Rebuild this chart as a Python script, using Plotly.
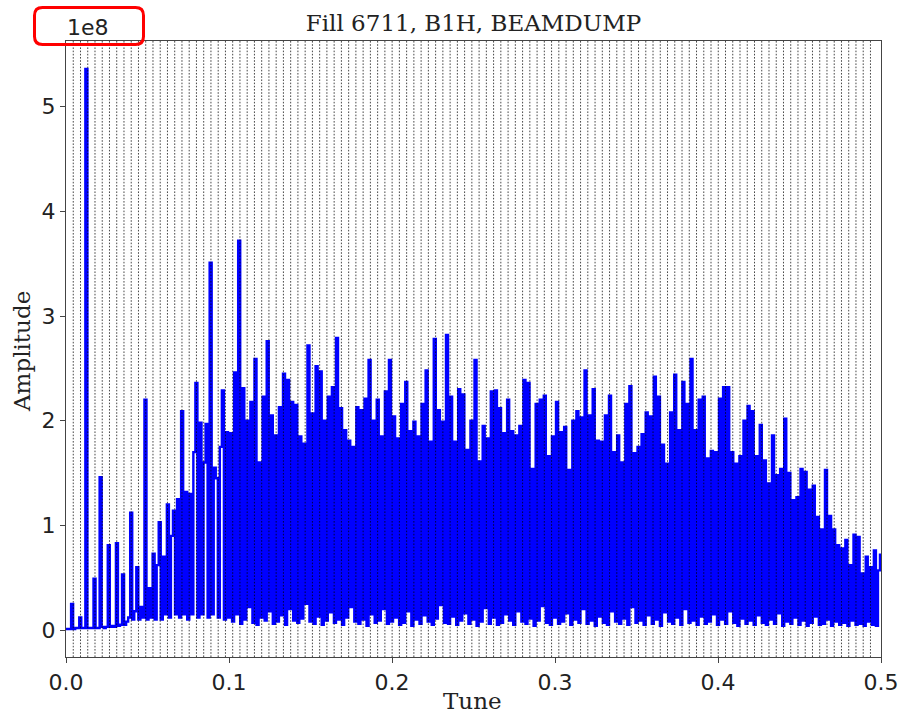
import numpy as np
import plotly.graph_objects as go

# Spectrum of the horizontal beam-1 BPM signal, amplitudes in units of 1e8
TITLE = "Fill 6711, B1H, BEAMDUMP"
AMP_EXPONENT_LABEL = "1e8"

# low-tune part (bins 0-79): isolated 50 Hz lines on a rising floor
amp_low = [
    0.01, 0.01, 0.01, 0.25, 0.01, 0.02, 0.02, 0.12, 0.02, 0.02,
    5.36, 0.02, 0.02, 0.02, 0.49, 0.02, 0.02, 1.46, 0.03, 0.02,
    0.03, 0.81, 0.03, 0.04, 0.03, 0.83, 0.04, 0.05, 0.53, 0.05,
    0.08, 0.12, 1.12, 0.10, 0.18, 0.60, 0.10, 0.22, 0.12, 2.20,
    0.10, 0.40, 0.12, 0.73, 0.10, 0.62, 1.03, 0.10, 0.70, 0.15,
    1.20, 0.12, 0.90, 1.14, 0.15, 1.25, 0.12, 2.09, 0.15, 1.32,
    0.10, 1.30, 0.15, 1.70, 2.36, 0.12, 1.98, 0.15, 1.60, 1.97,
    0.12, 3.51, 0.15, 1.55, 1.45, 0.12, 1.75, 2.29, 0.10, 1.89,
]

# broadband part (bins 80-399): local minima on even bins ...
trough_amp = [
    0.12, 0.08, 0.15, 0.06, 0.10, 0.22, 0.07, 0.05, 0.12, 0.09,
    0.18, 0.06, 0.08, 0.14, 0.05, 0.20, 0.09, 0.07, 0.11, 0.25,
    0.08, 0.06, 0.13, 0.05, 0.09, 0.17, 0.07, 0.10, 0.05, 0.12,
    0.22, 0.08, 0.06, 0.10, 0.04, 0.15, 0.07, 0.09, 0.20, 0.06,
    0.08, 0.12, 0.05, 0.07, 0.18, 0.04, 0.10, 0.06, 0.14, 0.08,
    0.05, 0.11, 0.24, 0.07, 0.06, 0.13, 0.05, 0.09, 0.16, 0.06,
    0.10, 0.04, 0.08, 0.21, 0.06, 0.12, 0.05, 0.07, 0.15, 0.09,
    0.05, 0.18, 0.08, 0.06, 0.11, 0.04, 0.09, 0.23, 0.07, 0.05,
    0.12, 0.06, 0.08, 0.16, 0.05, 0.10, 0.07, 0.20, 0.06, 0.09,
    0.04, 0.13, 0.07, 0.05, 0.18, 0.08, 0.06, 0.11, 0.05, 0.22,
    0.07, 0.09, 0.05, 0.14, 0.06, 0.10, 0.04, 0.17, 0.08, 0.06,
    0.12, 0.05, 0.20, 0.07, 0.09, 0.05, 0.13, 0.06, 0.08, 0.15,
    0.05, 0.10, 0.06, 0.18, 0.07, 0.04, 0.11, 0.06, 0.09, 0.05,
    0.14, 0.07, 0.05, 0.10, 0.06, 0.16, 0.04, 0.08, 0.06, 0.12,
    0.05, 0.09, 0.04, 0.07, 0.13, 0.05, 0.06, 0.10, 0.04, 0.08,
    0.05, 0.07, 0.04, 0.09, 0.05, 0.06, 0.04, 0.08, 0.05, 0.04,
]

# ... and local maxima on odd bins
peak_amp = [
    1.88, 2.46, 3.72, 2.31, 2.00, 2.18, 2.59, 1.60, 2.23, 2.76,
    2.05, 1.86, 2.13, 2.45, 2.39, 2.18, 2.15, 1.85, 1.78, 2.72,
    2.07, 2.52, 2.47, 2.00, 2.23, 2.32, 2.79, 2.12, 1.91, 1.81,
    1.75, 2.13, 2.10, 2.21, 2.58, 2.00, 2.20, 1.85, 2.28, 2.58,
    2.04, 1.83, 2.16, 2.37, 1.90, 1.99, 1.85, 2.16, 2.48, 1.80,
    2.78, 2.10, 1.99, 2.82, 2.23, 1.80, 2.30, 2.25, 1.72, 2.00,
    2.58, 1.61, 1.95, 1.83, 2.28, 2.29, 2.12, 1.88, 2.20, 1.90,
    1.86, 1.95, 2.39, 2.36, 1.54, 2.16, 2.20, 2.24, 1.66, 1.85,
    2.18, 1.89, 1.94, 1.53, 2.00, 2.09, 2.03, 2.48, 2.05, 2.30,
    1.81, 1.80, 2.05, 2.24, 1.70, 1.86, 1.60, 2.16, 2.33, 1.69,
    1.75, 1.87, 2.08, 2.04, 2.42, 2.23, 1.77, 1.59, 2.08, 2.44,
    1.91, 2.37, 2.16, 2.59, 1.91, 2.20, 2.23, 1.64, 1.71, 1.70,
    2.21, 2.32, 2.32, 1.70, 1.59, 1.66, 2.00, 2.14, 2.09, 1.66,
    1.96, 1.62, 1.40, 1.86, 1.48, 1.54, 2.02, 1.50, 1.24, 1.27,
    1.54, 1.51, 1.34, 1.38, 1.08, 0.96, 1.53, 1.09, 0.96, 0.81,
    0.78, 0.86, 0.62, 0.91, 0.89, 0.54, 0.70, 0.60, 0.76, 0.57,
]

amp_last = [0.72]   # bin 400, tune = 0.5

amplitude = list(amp_low)
for lo, hi in zip(trough_amp, peak_amp):
    amplitude += [lo, hi]
amplitude += amp_last

tune = np.linspace(0.0, 0.5, len(amplitude))

# 50 Hz harmonics expressed in tune units (f_rev = 11245.5 Hz)
F_MAINS = 50.0
F_REV = 11245.5
N_HARMONICS = 111
harmonic_tunes = [k * F_MAINS / F_REV for k in range(1, N_HARMONICS + 1)]

x_ticks = [0.0, 0.1, 0.2, 0.3, 0.4, 0.5]
y_ticks = [0, 1, 2, 3, 4, 5]

W, H = 902, 714
ML, MR, MT, MB = 66, 21, 41, 57
PW, PH = W - ML - MR, H - MT - MB


def px_to_paper(px, py):
    return (px - ML) / PW, (H - MB - py) / PH


serif = "DejaVu Serif"
sans = "DejaVu Sans"
ink = "#222222"
spine = "#444444"

fig = go.Figure()
fig.add_trace(go.Scatter(
    x=tune, y=amplitude, mode="lines",
    line=dict(color="#0000ff", width=2.4, shape="hvh"),
    hoverinfo="skip", showlegend=False,
))

# dotted markers at the mains harmonics
for t in harmonic_tunes:
    fig.add_shape(type="line", xref="x", yref="paper", x0=t, x1=t, y0=0, y1=1,
                  line=dict(color="rgba(0,0,0,0.72)", width=1, dash="1.6px,1.6px"),
                  layer="above")

span = max(amplitude) - min(amplitude)
y_range = [min(amplitude) - 0.05 * span, max(amplitude) + 0.05 * span]

axis_common = dict(
    showgrid=False, zeroline=False, showline=True, mirror=True, automargin=False,
    linecolor=spine, linewidth=1.2, ticks="outside", ticklen=5, tickwidth=1.2,
    tickcolor=spine, tickfont=dict(family=sans, size=22, color=ink),
)
fig.update_xaxes(range=[0.0, 0.5], tickvals=x_ticks, tickformat=".1f", **axis_common)
fig.update_yaxes(range=y_range, tickvals=y_ticks, **axis_common)

annotations = []
# offset (exponent) label of the amplitude axis
ex, ey = px_to_paper(87.5, 27.5)
annotations.append(dict(text=AMP_EXPONENT_LABEL, x=ex, y=ey, xref="paper", yref="paper",
                        showarrow=False, xanchor="center", yanchor="middle",
                        font=dict(family=sans, size=22, color=ink)))
tx, ty = px_to_paper(472, 701)
annotations.append(dict(text="Tune", x=tx, y=ty, xref="paper", yref="paper",
                        showarrow=False, xanchor="center", yanchor="middle",
                        font=dict(family=serif, size=23, color=ink)))
ax_, ay_ = px_to_paper(22, 352)
annotations.append(dict(text="Amplitude", x=ax_, y=ay_, xref="paper", yref="paper",
                        showarrow=False, textangle=-90, xanchor="center", yanchor="middle",
                        font=dict(family=serif, size=23, color=ink)))

# red rounded frame around the exponent label
x0, y0, x1, y1, r = 34.5, 7.5, 143.5, 44.5, 8


def P(px, py):
    a, b = px_to_paper(px, py)
    return f"{a:.5f},{b:.5f}"


path = (f"M {P(x0 + r, y0)} L {P(x1 - r, y0)} Q {P(x1, y0)} {P(x1, y0 + r)} "
        f"L {P(x1, y1 - r)} Q {P(x1, y1)} {P(x1 - r, y1)} "
        f"L {P(x0 + r, y1)} Q {P(x0, y1)} {P(x0, y1 - r)} "
        f"L {P(x0, y0 + r)} Q {P(x0, y0)} {P(x0 + r, y0)} Z")
fig.add_shape(type="path", xref="paper", yref="paper", path=path,
              line=dict(color="#ff0000", width=3), layer="above")

fig.update_layout(
    width=W, height=H,
    margin=dict(l=ML, r=MR, t=MT, b=MB, pad=0),
    paper_bgcolor="white", plot_bgcolor="white",
    title=dict(text=TITLE, x=(ML + PW / 2) / W, xanchor="center",
               y=1 - 23 / H, yanchor="middle", yref="container",
               font=dict(family=serif, size=23, color=ink)),
    annotations=annotations,
)

fig.write_html("out.html")
